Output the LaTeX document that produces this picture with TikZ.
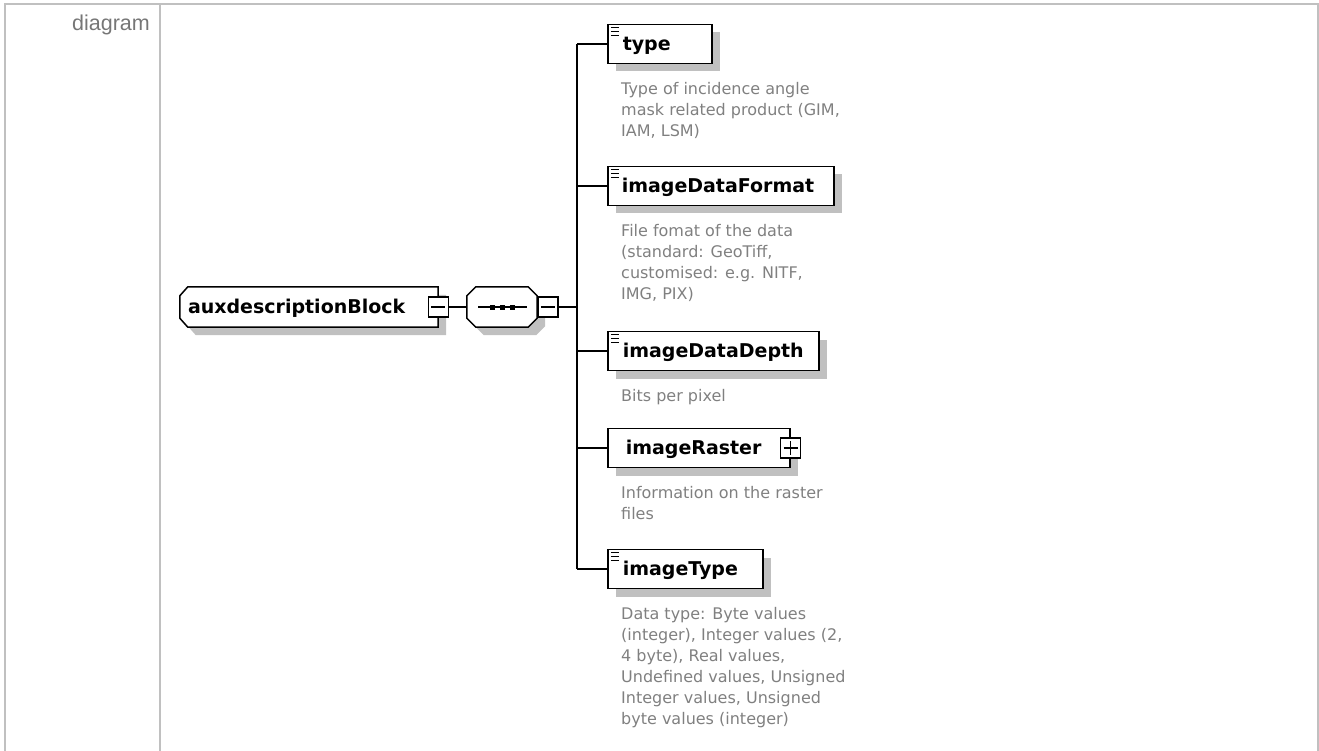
\documentclass[tikz,border=0pt]{standalone}
\usepackage{fontspec}
\setmainfont{DejaVu Sans}
\newfontfamily\framefont{Liberation Sans}
\usetikzlibrary{positioning,shadows,backgrounds}

\definecolor{framegray}{RGB}{192,192,192}
\definecolor{shadowgray}{RGB}{192,192,192}
\definecolor{notegray}{RGB}{128,128,128}
\definecolor{headgray}{RGB}{118,118,118}

\tikzset{
  boxshadow/.style={drop shadow={shadow xshift=8pt,shadow yshift=-8pt,fill=shadowgray,opacity=1}},
  namefont/.style={font=\fontsize{19}{23}\selectfont\bfseries},
  % element boxes on the right
  elembox/.style={draw,fill=white,line width=1.5pt,minimum height=39pt,
    inner xsep=0pt,inner ysep=0pt,text height=13.9pt,text depth=0pt,
    align=left,anchor=west,boxshadow,namefont},
  simpletype/.style={path picture={
      \foreach \dy in {3,7,11}
        \draw[line width=1.4pt] ([xshift=3pt,yshift=-\dy pt]path picture bounding box.north west) -- ++(8,0);}},
  % root element and compositor: outline drawn separately
  cplxbox/.style={minimum width=258pt,minimum height=40pt,
    inner xsep=0pt,inner ysep=0pt,text height=13.9pt,text depth=0pt,
    align=left,namefont},
  seqbox/.style={minimum width=70pt,minimum height=40pt,inner sep=0pt},
  outline/.style={draw,fill=white,line width=1.5pt,boxshadow},
  minusbox/.style={draw,fill=white,line width=1.3pt,minimum size=20pt,inner sep=0pt,
    path picture={\draw[line width=1.3pt] ([xshift=3pt]path picture bounding box.west) -- ([xshift=-3pt]path picture bounding box.east);}},
  plusbox/.style={draw,fill=white,line width=1.3pt,minimum size=20pt,inner sep=0pt,
    path picture={
      \draw[line width=1.3pt] ([xshift=3pt]path picture bounding box.west) -- ([xshift=-3pt]path picture bounding box.east);
      \draw[line width=1.3pt] ([yshift=-3pt]path picture bounding box.north) -- ([yshift=3pt]path picture bounding box.south);}},
  docnote/.style={align=left,inner sep=0pt,text=notegray,font=\fontsize{16}{21}\selectfont},
  wire/.style={draw,line width=1.5pt},
  frameline/.style={draw=framegray,line width=2pt}
}

\begin{document}
\begin{tikzpicture}[x=1pt,y=-1pt]
  \useasboundingbox (0,0) rectangle (1319,751);

  % table frame
  \draw[frameline] (5,751) -- (5,4) -- (1318,4) -- (1318,751);
  \draw[frameline] (160,4) -- (160,751);
  \node[anchor=base east,inner sep=0pt,text=headgray,font=\framefont\fontsize{21.5}{25}\selectfont] (head) at (150,31) {diagram};

  % root element and its sequence
  \node[cplxbox,text width=242pt] (aux) at (309,307) {auxdescriptionBlock};
  \node[seqbox] (seq) at (502,307) {};
  \begin{pgfonlayer}{background}
    \filldraw[outline] (aux.north east) -- ([xshift=8pt]aux.north west) -- ([yshift=-9pt]aux.north west)
      -- ([yshift=9pt]aux.south west) -- ([xshift=8pt]aux.south west) -- (aux.south east) -- cycle;
    \filldraw[outline] ([xshift=9pt]seq.north west) -- ([xshift=-9pt]seq.north east) -- ([yshift=-9pt]seq.north east)
      -- ([yshift=9pt]seq.south east) -- ([xshift=-9pt]seq.south east) -- ([xshift=9pt]seq.south west)
      -- ([yshift=9pt]seq.south west) -- ([yshift=-9pt]seq.north west) -- cycle;
  \end{pgfonlayer}
  \draw[line width=1.5pt] ([xshift=-24pt]seq.center) -- ([xshift=25pt]seq.center);
  \foreach \dx in {-10,0,10}
    \fill[black] ([xshift=\dx pt]seq.center) ++(-2.5,-2.5) rectangle ++(5,5);
  \node[minusbox] (auxminus) at (aux.east) {};
  \node[minusbox,anchor=west] (seqminus) at (seq.east) {};
  \coordinate (trunk) at (577,307);

  % child elements
  \node[elembox,simpletype,minimum width=104pt,text width=74pt] (type) at (607,44) {type};
  \node[elembox,simpletype,minimum width=226pt,text width=198pt] (fmt) at (607,186) {imageDataFormat};
  \node[elembox,simpletype,minimum width=211pt,text width=181pt] (depth) at (607,351) {imageDataDepth};
  \node[elembox,minimum width=182pt,text width=146pt] (raster) at (607,448) {imageRaster};
  \node[plusbox] (rasterplus) at (raster.east) {};
  \node[elembox,simpletype,minimum width=155pt,text width=125pt] (imgtype) at (607,569) {imageType};

  % documentation under each child
  \node[docnote,below right=18pt and 14pt of type.south west] (typedoc)
    {Type of incidence angle\\mask related product (GIM,\\IAM, LSM)};
  \node[docnote,below right=18pt and 14pt of fmt.south west] (fmtdoc)
    {File fomat of the data\\(standard: GeoTiff,\\customised: e.g. NITF,\\IMG, PIX)};
  \node[docnote,below right=18pt and 14pt of depth.south west] (depthdoc)
    {Bits per pixel};
  \node[docnote,below right=18pt and 14pt of raster.south west] (rasterdoc)
    {Information on the raster\\files};
  \node[docnote,below right=18pt and 14pt of imgtype.south west] (imgtypedoc)
    {Data type: Byte values\\(integer), Integer values (2,\\4 byte), Real values,\\Undefined values, Unsigned\\Integer values, Unsigned\\byte values (integer)};

  % connectors
  \begin{scope}[every edge/.style={wire}]
    \path (auxminus) edge (seq);
    \path (seqminus) edge (trunk);
    \path (trunk |- type.west) edge (trunk |- imgtype.west);
    \path (trunk |- type.west) edge (type);
    \path (trunk |- fmt.west) edge (fmt);
    \path (trunk |- depth.west) edge (depth);
    \path (trunk |- raster.west) edge (raster);
    \path (trunk |- imgtype.west) edge (imgtype);
  \end{scope}

\end{tikzpicture}
\end{document}
